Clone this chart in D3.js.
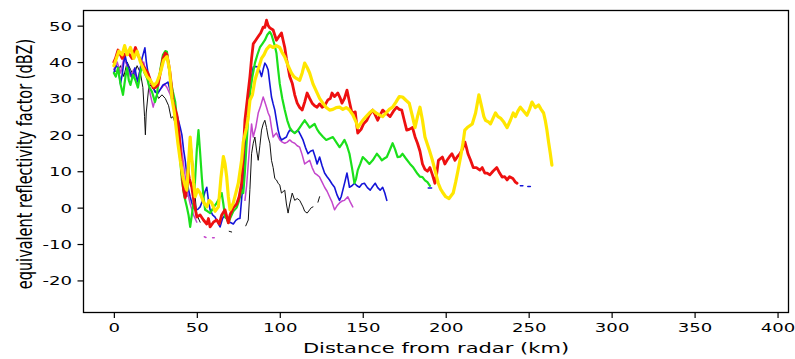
<!DOCTYPE html>
<html>
<head>
<meta charset="utf-8">
<script src="https://cdn.jsdelivr.net/npm/d3@7"></script>
<style>
  html, body { margin: 0; padding: 0; background: #fff; }
  svg { display: block; }
  text { font-family: "DejaVu Sans", sans-serif; fill: #000; }
</style>
</head>
<body>
<svg id="chart" width="795" height="359"></svg>
<script>
// ---------- data (distance km, dBZ) ----------
const xTicks = [0, 50, 100, 150, 200, 250, 300, 350, 400];
const yTicks = [-20, -10, 0, 10, 20, 30, 40, 50];
const xLabel = "Distance from radar (km)";
const yLabel = "equivalent reflectivity factor (dBZ)";

const black = [[0,38],[2,37],[4,39],[6,36],[8,40],[10,38],[12,36],[14,39],[16,37],[17.5,33],[18.5,25],[19,20],[19.5,26],[21,33],[23,34],[25,32],[27,30],[29,31],[31,30],[33,28],[34.5,24.6],[35.7,25],[37,23],[38.5,20],[40,14],[42,8],[44,3],[45.5,12],[46.5,18],[48,10],[49,3],[50,-2],[52,-4],null,[69.5,-6.5],[71,-6.7],null,[79.5,-5],[81,-3.4],[82,5],[83,14.8],[84,17.7],[85,19.4],[86,15.8],[87,13],[88,17],[89,21.3],[90,23],[91,24],[92,22],[93,19.4],[94,17.7],[95,13],[96,11],[97,8],[98,7.6],[99,6.7],[100,6.2],[101,4],[103,4.8],[104,1],[105,-1.5],[106,1],[107.5,4],[109,2],[110.5,2.5],[112,2],[114,0.2],[115,-1],[116.5,-1.5],[118,-0.6],[119,0],[120,0.2],null,[123,1.5],[124,3]];

const magenta = [[0,38],[2,40],[4,37],[6,41],[8,39],[10,36],[12,38],[14,35],[16,38],[18,40],[20,36],[22,31],[23.7,27.6],[25,30],[27,32],[29,33],[30.5,34],[32,33],[34,31],[36,28],[38,24],[40,19],[42,12],[44,5],[46,1],[48,-2],[50,-4],null,[54.5,-8],[55.5,-8.2],null,[59.5,-8.3],[60.5,-8.3],null,[79,2],[80,6],[81,12],[82,17.7],[83,23],[84,19.4],[85.5,22],[87,26],[88.5,28],[90,30.4],[91,29],[92,27.6],[93,26],[94,25],[95,22],[96,19.4],[97,20],[98,20.5],[99,19.5],[100,18.6],[101.5,18],[103,17.7],[104.5,18],[106,18.6],[107.5,18],[109,17.7],[110.5,17],[112,16.6],[113.5,14.5],[115,12],[116.5,12.5],[118,13],[119.5,11],[121,9.5],[122.5,9],[124,8.4],[125.5,7],[127,5.6],[128.5,4.5],[130,3],[131.5,1.5],[133,-0.6],[134.5,0.5],[136,1.3],[137.5,1.8],[139,2],[140,2.5],[141,3],[142.5,1.5],[144,0.2]];

const blue = [[0,37],[1.2,39],[2.5,38.4],[4,34],[5,36.5],[6,40],[6.7,42],[7.6,40],[8.5,39],[10,37],[11,35.6],[12,37],[12.7,38.4],[13.6,36],[14.5,34.5],[15.8,38],[17,41],[18.7,43.9],[19.6,40],[20.5,37.3],[22,35],[23,33.7],[24.8,31.8],[26.6,31.5],[28,32.5],[29.6,33.7],[31,34],[32.6,34.5],[34,32],[35.7,29],[37,27],[38.6,24.6],[40,22],[41,20],[42,16],[43,13],[44,9],[44.7,5.6],[46,3],[47,1.3],[48,0],[49,-0.6],[50.5,-0.5],[52,0.2],[53.5,2],[55,4.5],[56,5.6],[57,2],[58,-0.6],[59.5,-2],[61,-2.6],[62.5,-4],[64,-5.3],[65.5,-3],[67,-2],[68.5,-3.5],[70,-4],[72,-4.5],[73.5,-3.5],[75,-3],[76,-3],[77.5,5],[79,15],[80,22],[81,28],[82,31.5],[83,36],[84,38.6],[85.5,38.8],[87,38.6],[88,37.5],[89,36],[90,38],[91,39.7],[92,39],[93,37.8],[94,34],[95,30.4],[96,28.5],[97,26.8],[98,24],[99,21.3],[100,19.5],[101,18.6],[102.5,19],[104,19.4],[105,20.5],[106,21.3],[107.5,21],[109,20.5],[110,21],[111,21.3],[112.5,20],[114,18.6],[115.5,16.5],[117,14.8],[118.5,15.5],[120,15.8],[121.3,14],[122.5,12],[124,13.9],[125.5,11.5],[127,9.5],[128.5,8.5],[130,7.6],[131.5,6.5],[133,5.6],[134.5,3.5],[136,2],[137,3],[138,4.8],[139.2,7],[140.5,9.5],[141.3,7.5],[142,5.6],[143.5,6],[145,6.7],[146.5,6],[148,5.6],[149.5,6.5],[151,6.7],[152.8,5.5],[154.5,4.8],[156,5.8],[157.5,6.7],[159,5.5],[160.5,4.8],[162,5.6],[163.3,4],[164.5,2],null,[189.5,5.4],[191.5,5.4],null,[245,6],[246.5,6],null,[249.5,5.8],[251,5.8]];

const green = [[0,37],[1.2,36],[2.5,38.4],[4,34],[5.5,31],[7,36],[8,38.4],[9,35],[10,33.7],[11.5,36.5],[13,35],[14.5,33],[16,37],[17,39],[18.5,37],[20,35.6],[21.5,33],[23,31.8],[24.8,29],[26,31],[26.6,33.7],[28,38],[29.6,42],[31,43],[32,42.8],[33,39],[34,35.6],[35.5,32],[37,29],[38.5,22],[40,13],[41,7.6],[42.5,3],[44,0.2],[45,-2],[46,-5.3],[47,-2],[48,1.3],[49,8],[50,16],[51,21.3],[52,15],[53,8.4],[54,3],[55,-0.6],[56.5,-1],[58,-1.5],[60,0],[62,1.3],[63.5,2.5],[65,4],[66,1],[67,-2.6],[68,-3],[69,-4.2],[70,-3],[72,-1],[74,0],[75.5,2],[77,4.8],[78,4],[79,10],[80,17.7],[81,25],[82,31.5],[83.5,36],[85,39.7],[86.5,42],[88,44],[89.5,45],[91,46],[92.5,47.5],[94,48.3],[95,47.5],[96,46],[97,44.5],[98,42.4],[99,38],[100,34],[101.5,30],[103,26.8],[104.5,24],[106,22],[107.5,21],[109,20.5],[110.5,21],[112,22],[113.5,23],[115,24],[116.5,23],[118,22],[119.5,22.5],[121,23],[122.5,21.5],[124,20.5],[126,19.5],[128,18.6],[130,19],[132,19.4],[134,18],[136,16.6],[137.5,17.5],[139,18.6],[140.5,17],[142,14.8],[143.5,11],[145,6.7],[146,8],[147,10.3],[148.5,12],[150,13.9],[152,13],[154,12],[156,13],[158.5,14.8],[160,14],[161.5,13],[163,13.5],[164.5,13.9],[166,15.5],[168,17.7],[169.5,16],[171,13.9],[172.5,14],[174,14.8],[176,13.5],[178.5,12],[180.5,11],[183,9.3],[184.5,8.5],[186,8.4],[187.5,7.5],[189,7],[190.5,6]];

const red = [[0,40],[1,41],[2.5,43.3],[4,42],[5,41],[6.5,42],[8,42.8],[9.5,42],[11,41],[13,44],[14.5,42],[16,40.5],[17.6,39],[19,38],[20.5,37],[22,35],[23.6,32.9],[25,33],[26.6,33.7],[28,37],[29.6,41],[31,42.5],[32,42],[33,39.5],[34,36.5],[35,32],[35.7,29],[37,27],[38,25.4],[39,22],[40,16],[41,10],[42,5],[43,2.7],[44,6],[44.6,10.3],[45.5,8],[47,5.6],[48.5,1],[50,-2.6],[52,-2],[54,-3.4],[56,-4.5],[57,-3],[58,-5.3],[60,-4],[62,-3.4],[63.5,-4.5],[65,-2],[67,-0.6],[69,-4.2],[70,-2],[72,0],[74,1],[75.5,3],[77,6.7],[78,15],[79,24],[80.5,30],[82,36],[83,41],[84,45],[85.5,46],[87,47],[88.5,48],[90,49.6],[91,49.5],[92,51.5],[93,50],[94,49.4],[96,48.8],[98,46],[99.5,47],[101,48],[102,46],[103,44],[104,41],[105,38.6],[106,36],[107.5,34.2],[109,31],[110.5,28.7],[112,27.5],[113.5,26.8],[115,29],[116.5,31.5],[118,30],[119.5,28.7],[121,28],[122.5,27.6],[124,28.5],[125.5,27.6],[127,28],[129,29.6],[130.5,30],[131.5,31.5],[133,30.5],[135,31.5],[136.5,30],[137.5,28.7],[139,30],[140.5,32.3],[142,29],[143.5,26],[145.5,26.3],[146.3,23],[147,20.5],[149,21.5],[150.5,23],[152.5,24],[154,25.5],[156,26.8],[157.5,25.5],[159,24],[160.5,25.5],[162,26.8],[164,26],[166.5,25],[168.5,26.5],[170.5,27.6],[172,27],[173.5,26.8],[175,24],[176.5,21.3],[178,21.5],[180,22],[181.5,19.5],[183,17.7],[184.5,15.5],[186,12],[187.5,10.5],[189,10],[190.5,11],[192,9],[193.5,6.7],[194.5,9],[195.6,13],[198,13.9],[199.5,12],[200.8,13],[202.3,14],[203.8,14.8],[205.6,13],[207,14],[208.6,14.8],[210,16],[211.6,18],[212.5,16.5],[213.4,14.8],[215,13],[216.6,11],[218.5,11],[220.6,10.3],[222,11],[223.6,9.5],[225,9.5],[226.6,9],[228.5,10],[230.8,11],[232.5,9.5],[234,8.4],[235.5,8.5],[237,7.6],[238.5,8.5],[240.5,8],[242,7],[243,6.7]];

const yellow = [[0,39],[1.5,41],[3,43],[5,42],[6.5,44.5],[8,42],[10,44],[12,41],[14,43],[16,40],[18,38],[20,36],[22,35],[24,33.5],[26,34.5],[28,37],[30,40.5],[32,41.5],[33.5,38],[35,30],[36.5,26],[38.6,17.7],[40,13],[41.7,8.4],[43,6],[44,4.8],[45,12],[46,19.4],[47,13],[48,7],[49,3],[50.5,5],[52,4],[54,1.5],[56,0.2],[57.5,2],[59,1.3],[61,-1],[63,0.2],[64.5,8],[66,14],[67,12],[68,8.4],[69,3],[70,-0.6],[72,1.3],[73.5,4],[75,6.7],[77,13],[78,18],[80,22],[81,25],[82,29.5],[83.5,31],[85,35],[87,38],[89,41],[90.5,42],[92,43.5],[94,44.5],[96,44],[98,44.5],[100,44],[101.5,42.5],[103,41.4],[105,39],[107,37],[108.5,36],[110,35.5],[112,35],[113.5,37],[115,39.7],[116.5,38.5],[118,37],[120,34],[122,32],[124,30],[126,28.7],[128,27.5],[130,26.8],[132,27],[134,27.5],[136,27.6],[138,27],[140,27.5],[142,26.8],[144,25.5],[146,23.5],[147,22],[148.5,23],[150,24],[152,25],[154,26],[156,26.8],[158,26],[160,25.5],[162,25],[164,26],[166,27],[168,27.6],[170,29],[172,30.5],[174,30.4],[176,29.5],[178,28.7],[180,25],[181.5,22],[183,25],[184.5,27.6],[186,24],[187.5,19.4],[190,16],[192,13],[194,9.5],[195.5,6.7],[197,5],[198,4.3],[200,3],[202,2.5],[204.5,4],[206,7],[207.5,10.4],[209,14],[210.5,18],[211.5,21.3],[213,22],[214.5,22.5],[216,23],[218,26],[220,31],[221.5,28],[223,25],[224,24],[226,23.5],[227,23],[228.5,24.5],[230,26],[231.5,25],[233,24.6],[235,23.5],[237,22],[239,24],[240.7,26],[242,25],[243.5,26.5],[245,27.6],[247,26.5],[249,25.4],[250.5,27],[252,29],[254,27.5],[256,28.2],[257.5,27],[259,26],[260,24],[261,21.3],[262,18],[263,15],[264,11.7]];

const seriesList = [
  { name: "black",   data: black,   color: "#111111", width: 1.0 },
  { name: "magenta", data: magenta, color: "#c447cc", width: 1.5 },
  { name: "blue",    data: blue,    color: "#1414d8", width: 1.6 },
  { name: "green",   data: green,   color: "#1be01b", width: 2.2 },
  { name: "red",     data: red,     color: "#ee1010", width: 2.8 },
  { name: "yellow",  data: yellow,  color: "#ffe600", width: 3.2 }
];

// ---------- layout ----------
const L = 83, R = 789, T = 10, B = 313;
const SX = 1.45; // horizontal stretch of the original picture's text

const svg = d3.select("#chart");
svg.append("rect").attr("width", 795).attr("height", 359).attr("fill", "#fff");

const x = d3.scaleLinear().domain([-18.6, 406.9]).range([L, R]);
const y = d3.scaleLinear().domain([-28.95, 54.3]).range([B, T]);

svg.append("defs").append("clipPath").attr("id", "plotclip")
  .append("rect").attr("x", L).attr("y", T).attr("width", R - L).attr("height", B - T);

const line = d3.line()
  .defined(d => d != null)
  .x(d => x(d[0]))
  .y(d => y(d[1]));

const plot = svg.append("g").attr("clip-path", "url(#plotclip)");
seriesList.forEach(s => {
  plot.append("path")
    .datum(s.data)
    .attr("fill", "none")
    .attr("stroke", s.color)
    .attr("stroke-width", s.width)
    .attr("stroke-linejoin", "round")
    .attr("stroke-linecap", "round")
    .attr("d", line);
});

// frame
svg.append("rect")
  .attr("x", L + 0.5).attr("y", T + 0.5)
  .attr("width", R - L - 1).attr("height", B - T - 1)
  .attr("fill", "none").attr("stroke", "#000").attr("stroke-width", 1.3);

// axes
const xAxis = svg.append("g").attr("transform", `translate(0,${B})`)
  .call(d3.axisBottom(x).tickValues(xTicks).tickSize(5).tickSizeOuter(0).tickFormat(d3.format("d")));
const yAxis = svg.append("g").attr("transform", `translate(${L},0)`)
  .call(d3.axisLeft(y).tickValues(yTicks).tickSize(5.5).tickSizeOuter(0).tickFormat(d => d < 0 ? "-" + Math.abs(d) : String(d)));

[xAxis, yAxis].forEach(a => {
  a.select(".domain").remove();
  a.selectAll(".tick line").attr("stroke", "#000").attr("stroke-width", 1.2);
  a.selectAll(".tick text")
    .style("font-family", "DejaVu Sans, sans-serif")
    .style("font-size", "12.5px")
    .attr("fill", "#000");
});
xAxis.selectAll(".tick text").attr("y", 19.5).attr("dy", 0)
  .attr("transform", `scale(${SX},1)`);
yAxis.selectAll(".tick text").attr("x", -11 / SX).attr("dy", "0.36em")
  .attr("transform", `scale(${SX},1)`);

// axis labels
svg.append("text")
  .attr("transform", `translate(${(L + R) / 2},353) scale(${SX},1)`)
  .attr("text-anchor", "middle")
  .style("font-size", "14.5px")
  .text(xLabel);

svg.append("text")
  .attr("transform", `translate(24,164) scale(${SX},1) rotate(-90)`)
  .attr("text-anchor", "middle")
  .attr("dy", "0.36em")
  .style("font-size", "14.5px")
  .text(yLabel);
</script>
</body>
</html>
